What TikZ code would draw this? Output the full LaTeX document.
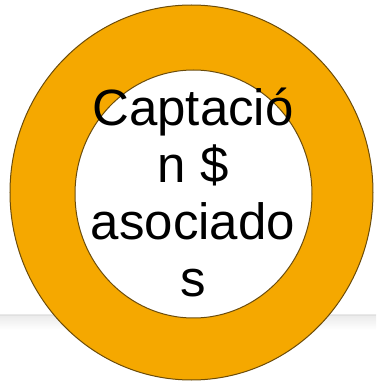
\documentclass[tikz,border=0pt]{standalone}
\usepackage{fontspec}
\setmainfont{Liberation Sans}
\usetikzlibrary{shapes.geometric}
\definecolor{naranja}{RGB}{245,168,0}
\definecolor{borde}{RGB}{108,76,10}
\tikzset{aro/.style={ellipse,draw=borde,line width=1pt,inner sep=0pt}}
\begin{document}
\begin{tikzpicture}[x=1pt,y=1pt,every node/.style={font=\fontsize{51}{57.3}\selectfont}]
\useasboundingbox (0,0) rectangle (376,384);
\shade[top color=black!8,bottom color=white] (0,54) rectangle (376,69); \draw[black!12] (0,69) -- (376,69);
\node[aro,fill=naranja,minimum width=363pt,minimum height=375pt] (externo) at (191.5,191.5) {};
\node[aro,fill=white,minimum width=237pt,minimum height=248pt] (interno) at (193.5,190) {};
\node[align=center] (texto) at (193,191.5) {Captació\\n \$\\asociado\\s};
\end{tikzpicture}
\end{document}
